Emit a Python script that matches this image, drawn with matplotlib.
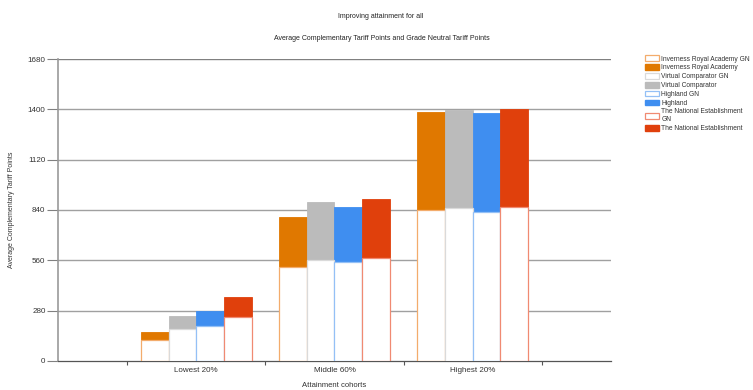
import numpy as np
import matplotlib.pyplot as plt
from matplotlib.patches import Patch

plt.rcParams['font.family'] = ['Liberation Sans', 'DejaVu Sans']

# Dados
cohorts = ['Lowest 20%', 'Middle 60%', 'Highest 20%']
series = ['Inverness Royal Academy', 'Virtual Comparator', 'Highland', 'The National Establishment']
ira_gn = [117, 521, 840]
ira = [163, 799, 1385]
vc_gn = [176, 562, 851]
vc = [250, 883, 1395]
hl_gn = [195, 549, 829]
hl = [280, 855, 1378]
ne_gn = [243, 575, 857]
ne = [354, 903, 1402]
yticks = [0, 280, 560, 840, 1120, 1400, 1680]

fills = ['#e07800', '#bbbbbb', '#3f8ef0', '#e0400c']
edges_gn = ['#f3ac6c', '#dadada', '#94c0f6', '#f08a72']

fig = plt.figure(figsize=(7.53, 3.90), dpi=100)
ax = fig.add_axes([0.077, 0.0744, 0.7344, 0.7743])

x = np.arange(1, len(cohorts) + 1)
width = 0.2
offsets = [-0.3, -0.1, 0.1, 0.3]
totals = [ira, vc, hl, ne]
gns = [ira_gn, vc_gn, hl_gn, ne_gn]

# Linhas de grade horizontais
for t in yticks[1:]:
    ax.axhline(t, color='#808080' if t == 1680 else '#a0a0a0', lw=1.0, zorder=1)

for i in range(4):
    ax.bar(x + offsets[i], totals[i], width, color=fills[i], edgecolor=fills[i],
           lw=0.6, zorder=2)
    ax.bar(x + offsets[i], gns[i], width, color='white', edgecolor=edges_gn[i],
           lw=0.9, zorder=3)

ax.set_xlim(0, 4)
ax.set_ylim(0, 1680)
ax.set_yticks(yticks)
ax.set_yticklabels([str(t) for t in yticks], fontsize=5.8, color='#333333')
ax.set_xticks([0.5, 1.5, 2.5, 3.5])
ax.set_xticklabels([])
ax.set_xticks(x, minor=True)
ax.set_xticklabels(cohorts, minor=True, fontsize=5.8, color='#333333')
ax.tick_params(axis='x', which='minor', length=0, pad=4)
ax.tick_params(axis='x', which='major', length=3, color='#555555')
ax.tick_params(axis='y', length=8, color='#808080', pad=1)

for s in ['top', 'right']:
    ax.spines[s].set_visible(False)
ax.spines['left'].set_color('#999999')
ax.spines['left'].set_linewidth(1.2)
ax.spines['bottom'].set_color('#555555')
ax.spines['bottom'].set_linewidth(0.9)

ax.set_xlabel('Attainment cohorts', fontsize=5.5, color='#333333', labelpad=6)
ax.set_ylabel('Average Complementary Tariff Points', fontsize=5.0, color='#333333')
ax.yaxis.set_label_coords(-0.077, 0.5)

fig.text(0.506, 1 - 16 / 390, 'Improving attainment for all', ha='center', va='center',
         fontsize=5.0, color='#222222')
fig.text(0.507, 1 - 38 / 390, 'Average Complementary Tariff Points and Grade Neutral Tariff Points',
         ha='center', va='center', fontsize=5.0, color='#222222')

handles = []
labels = []
for i in range(4):
    gn_name = series[i] + ' GN'
    if i == 3:
        gn_name = series[i] + '\nGN'
    handles.append(Patch(facecolor='white', edgecolor=edges_gn[i], lw=0.9))
    labels.append(gn_name)
    handles.append(Patch(facecolor=fills[i], edgecolor=fills[i]))
    labels.append(series[i])

fig.legend(handles, labels, loc='upper left', bbox_to_anchor=(0.851, 0.87),
           frameon=False, fontsize=4.8, handlelength=2.0, handleheight=0.95,
           handletextpad=0.4, labelspacing=0.25, borderpad=0.2, labelcolor='#333333')

fig.savefig('out.png', dpi=100)
